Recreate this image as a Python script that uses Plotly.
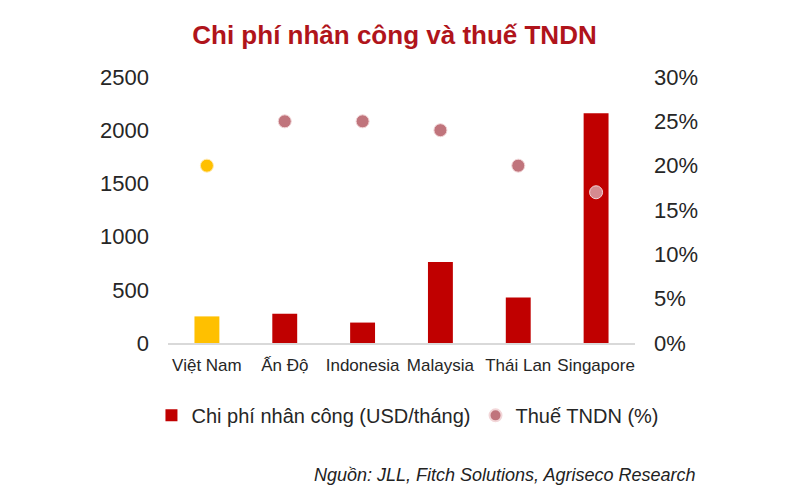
import plotly.graph_objects as go

# data
countries = ["Việt Nam", "Ấn Độ", "Indonesia", "Malaysia", "Thái Lan", "Singapore"]
labour_cost = [250, 275, 192, 762, 428, 2160]   # USD/tháng
cit_rate = [20, 25, 25, 24, 20, 17]             # %

HIGHLIGHT = "Việt Nam"
RED = "#C00000"
YELLOW = "#FFC000"
ROSE = "#C0747C"
dot_override = {"Singapore": "#D58A90"}

FONT = "Arial, Liberation Sans, sans-serif"
W, H = 792, 492  # page body has an 8px margin, so the figure is sized to fit the window

hl_idx = [i for i, c in enumerate(countries) if c == HIGHLIGHT]
rest_idx = [i for i, c in enumerate(countries) if c != HIGHLIGHT]

fig = go.Figure()

fig.add_trace(go.Bar(
    x=[countries[i] for i in hl_idx],
    y=[labour_cost[i] for i in hl_idx],
    marker=dict(color=YELLOW, line=dict(width=0)),
    showlegend=False, hoverinfo="x+y"))
fig.add_trace(go.Bar(
    x=[countries[i] for i in rest_idx],
    y=[labour_cost[i] for i in rest_idx],
    name="Chi phí nhân công (USD/tháng)",
    marker=dict(color=RED, line=dict(width=0))))

fig.add_trace(go.Scatter(
    x=[countries[i] for i in hl_idx],
    y=[cit_rate[i] for i in hl_idx],
    mode="markers", yaxis="y2", showlegend=False,
    marker=dict(color=YELLOW, size=13, line=dict(color="#FFE9B0", width=1))))
fig.add_trace(go.Scatter(
    x=[countries[i] for i in rest_idx],
    y=[cit_rate[i] for i in rest_idx],
    mode="markers", yaxis="y2", name="Thuế TNDN (%)",
    marker=dict(color=[dot_override.get(countries[i], ROSE) for i in rest_idx],
                size=13, line=dict(color="#F2D6D8", width=1))))

# plot area placed with the x domain so the paper spans the full width
fig.update_layout(
    width=W, height=H,
    margin=dict(l=0, r=0, t=69, b=157),
    paper_bgcolor="white", plot_bgcolor="white",
    font=dict(family=FONT, color="#262626"),
    barmode="overlay", bargap=0.68,
    title=dict(text="<b>Chi phí nhân công và thuế TNDN</b>",
               x=0.488, xanchor="center", y=0.945, yanchor="middle",
               font=dict(size=26, color="#B0141B")),
    xaxis=dict(domain=[160 / W, 627 / W],
               categoryorder="array", categoryarray=countries,
               showgrid=False, showline=True, linecolor="#D9D9D9", linewidth=1.5,
               ticks="", tickfont=dict(size=17), ticklabelstandoff=6),
    yaxis=dict(range=[0, 2500], dtick=500, showgrid=False, zeroline=False,
               ticks="", tickfont=dict(size=22), ticklabelstandoff=18),
    yaxis2=dict(range=[0, 30], dtick=5, ticksuffix="%", overlaying="y", side="right",
                showgrid=False, zeroline=False, ticks="",
                tickfont=dict(size=22), ticklabelstandoff=18),
    legend=dict(orientation="h", x=0.505, xanchor="center",
                y=-0.272, yanchor="middle",
                font=dict(size=20), itemsizing="constant", traceorder="normal",
                bgcolor="rgba(0,0,0,0)"),
    annotations=[dict(text="<i>Nguồn: JLL, Fitch Solutions, Agriseco Research</i>",
                      xref="paper", yref="paper", x=690 / W, y=-0.497,
                      xanchor="right", yanchor="middle", showarrow=False,
                      font=dict(size=18, color="#222222"))],
)

fig.write_html("out.html")
